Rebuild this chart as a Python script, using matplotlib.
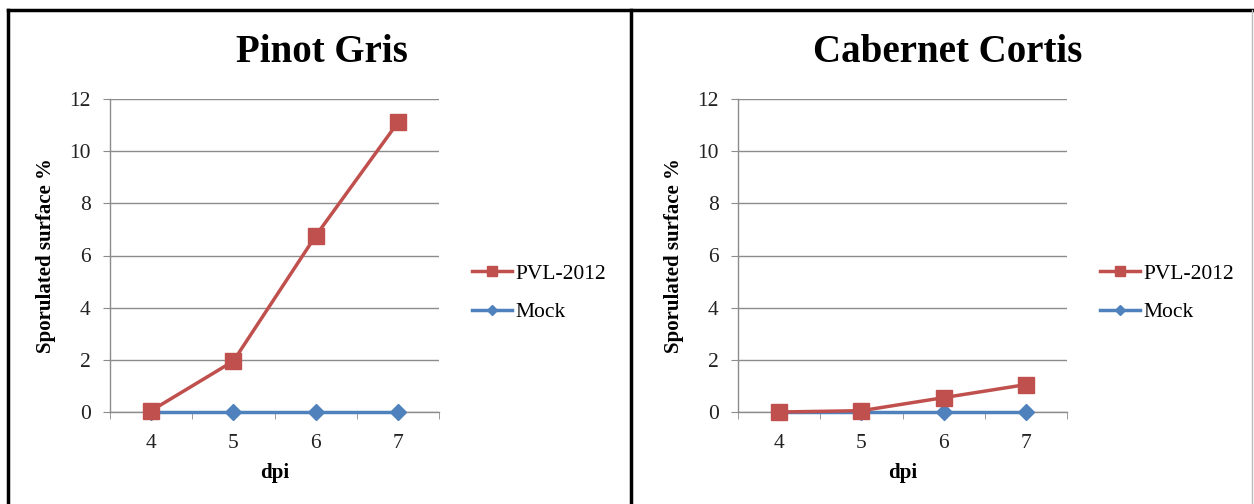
"""Sporulated surface % over dpi for two grapevine cultivars."""
import matplotlib
matplotlib.use("Agg")
import matplotlib.pyplot as plt
from matplotlib.lines import Line2D

plt.rcParams['font.family'] = ['Liberation Serif', 'DejaVu Serif']

# data
days = ["4", "5", "6", "7"]
titles = ["Pinot Gris", "Cabernet Cortis"]
pvl_pinot = [0.05, 1.95, 6.75, 11.1]
pvl_cabernet = [0.0, 0.05, 0.55, 1.05]
mock_pinot = [0, 0, 0, 0]
mock_cabernet = [0, 0, 0, 0]
yticks = [0, 2, 4, 6, 8, 10, 12]

red = "#C0504D"
blue = "#4F81BD"
gray = "#8C8C8C"

W, H = 1254, 504
fig = plt.figure(figsize=(W / 100, H / 100), dpi=100)


def fx(px):
    return px / W


def fy(py):
    return 1 - py / H


panels = [
    (titles[0], pvl_pinot, mock_pinot, 110, 322),
    (titles[1], pvl_cabernet, mock_cabernet, 738, 948),
]

for title, pvl, mock, left, tx in panels:
    ax = fig.add_axes([fx(left), fy(412), fx(329), 313 / H])
    x = range(len(days))
    ax.plot(x, mock, color=blue, lw=2.5, marker="D", ms=8, label="Mock",
            zorder=3, clip_on=False)
    ax.plot(x, pvl, color=red, lw=2.5, marker="s", ms=11, label="PVL-2012",
            zorder=4, clip_on=False)

    ax.set_xlim(-0.5, len(days) - 0.5)
    ax.set_ylim(0, 12)
    ax.set_yticks(yticks)
    ax.set_xticks(list(x))
    ax.set_xticklabels(days)
    ax.set_xticks([i - 0.5 for i in range(len(days) + 1)], minor=True)
    ax.tick_params(axis="x", which="major", length=0, pad=16, labelsize=15.5, labelcolor="#222222")
    ax.tick_params(axis="x", which="minor", length=5, color=gray, direction="out")
    ax.tick_params(axis="y", length=5, color=gray, pad=9, labelsize=15.5, labelcolor="#222222")

    ax.grid(axis="y", color=gray, lw=1)
    ax.set_axisbelow(True)
    for s in ["top", "right"]:
        ax.spines[s].set_visible(False)
    for s in ["left", "bottom"]:
        ax.spines[s].set_color(gray)
        ax.spines[s].set_linewidth(1)
        ax.spines[s].set_zorder(2)

    ax.set_ylabel("Sporulated surface %", fontsize=15, fontweight="bold")
    ax.yaxis.set_label_coords(-0.164, 0.5)
    ax.set_xlabel("dpi", fontsize=15, fontweight="bold")
    ax.xaxis.set_label_coords(0.5, -0.163)

    handles, labels = ax.get_legend_handles_labels()
    ax.legend(handles[::-1], labels[::-1], loc="center left",
              bbox_to_anchor=(1.10, 0.38), frameon=False, fontsize=15.5,
              borderaxespad=0, borderpad=0, handlelength=1.85,
              handletextpad=0.15, labelspacing=0.85, markerscale=0.7)

    fig.text(fx(tx), fy(53), title, ha="center", va="center",
             fontsize=28, fontweight="bold")

# frame lines around the two panels
frame = [
    ([fx(8), fx(8)], [fy(10), 0]),
    ([fx(8), fx(1252)], [fy(10), fy(10)]),
    ([fx(631), fx(631)], [fy(10), 0]),
]
for xs, ys in frame:
    fig.add_artist(Line2D(xs, ys, color="black", lw=2.5))
fig.add_artist(Line2D([fx(1252), fx(1252)], [fy(10), 0], color="#bbbbbb", lw=1))

fig.savefig("out.png", dpi=100)
